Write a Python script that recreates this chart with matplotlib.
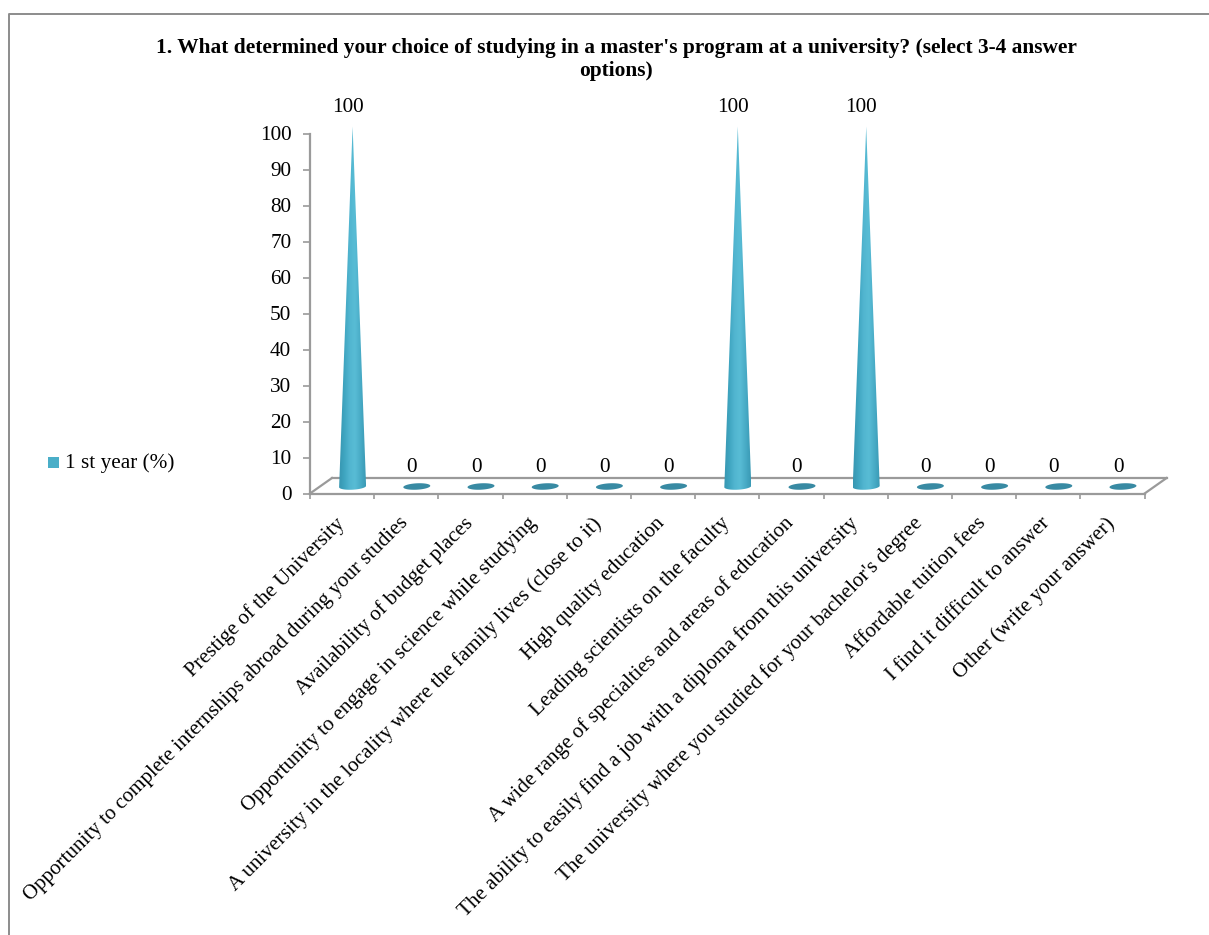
import numpy as np
import matplotlib
matplotlib.use("Agg")
import matplotlib.pyplot as plt
from matplotlib.patches import Polygon, Rectangle
from matplotlib.lines import Line2D
from matplotlib.transforms import ScaledTranslation
from matplotlib.colors import LinearSegmentedColormap

plt.rcParams['font.family'] = ['Liberation Serif', 'DejaVu Serif']

categories = [
    "Prestige of the University",
    "Opportunity to complete internships abroad during your studies",
    "Availability of budget places",
    "Opportunity to engage in science while studying",
    "A university in the locality where the family lives (close to it)",
    "High quality education",
    "Leading scientists on the faculty",
    "A wide range of specialties and areas of education",
    "The ability to easily find a job with a diploma from this university",
    "The university where you studied for your bachelor's degree",
    "Affordable tuition fees",
    "I find it difficult to answer",
    "Other (write your answer)",
]
values = [100, 0, 0, 0, 0, 0, 100, 0, 100, 0, 0, 0, 0]
series_name = "1 st year (%)"
title = ("1. What determined your choice of studying in a master's program at a university? (select 3-4 answer\noptions)")

W, H = 1209, 935
GRAY = "#9a9a9a"
FS = 15.3
fig = plt.figure(figsize=(W/100, H/100), dpi=100)

def fx(p): return p / W
def fy(p): return 1 - p / H

# chart frame
fig.add_artist(Line2D([fx(8.5), fx(8.5), fx(1209)], [fy(935), fy(13.5), fy(13.5)],
                      color="#8c8c8c", lw=1.4, transform=fig.transFigure))

ax = fig.add_axes([fx(310), fy(493.5), fx(1144.6)-fx(310), (493.5-133.5)/H])
ax.patch.set_alpha(0)
n = len(categories)

px = 72 / 100      # one pixel in points
dx, dy = 22, 15.5  # depth of the 3D floor, in pixels

def shift(x_px, y_px):
    return ax.transData + ScaledTranslation(x_px/100, y_px/100, fig.dpi_scale_trans)

for s in ["top", "right"]:
    ax.spines[s].set_visible(False)
for s in ["left", "bottom"]:
    ax.spines[s].set_color(GRAY)
    ax.spines[s].set_linewidth(1.6)

# floor
ax.plot([0, n], [0, 0], color=GRAY, lw=1.6, transform=shift(dx, dy), clip_on=False, zorder=1)
ax.set_xlim(0, n)
ax.set_ylim(0, 100)
fig.canvas.draw()
for xv in [0, n]:
    p0 = ax.transData.transform((xv, 0))
    fig.add_artist(Line2D([p0[0], p0[0] + dx], [p0[1], p0[1] + dy], color=GRAY, lw=1.6,
                          transform=None, zorder=1))

ax.set_yticks(np.arange(0, 101, 10))
ax.set_xticks(np.arange(0, n + 1))
ax.set_xticklabels([])
ax.tick_params(axis='y', length=5, width=1.2, color=GRAY, labelsize=FS, pad=8.5)
ax.tick_params(axis='x', length=3.5, width=1.2, color=GRAY)

# rotated category labels
for i, lab in enumerate(categories):
    ax.annotate(lab, xy=(i + 0.5, 0), xycoords='data', xytext=(-5.5, -14.5), textcoords='offset points',
                rotation=45, rotation_mode='anchor', ha='right', va='top',
                fontsize=15.1, color='black', annotation_clip=False)

cone_cmap = LinearSegmentedColormap.from_list(
    "cone", ["#3796b1", "#3fa5c0", "#52b6d0", "#58bcd5", "#48abc6", "#3a9ab5"])
grad = np.linspace(0, 1, 256).reshape(1, -1)
half_w = 0.21
cx_off, cy_off = 10.5, 7
px_per_unit = 3.6
rim_b = 3.2 / px_per_unit    # half height of the base ellipse
rim_k = 0.7 / px_per_unit    # tilt of the base ellipse
cone_tr = shift(cx_off, cy_off)
for i, v in enumerate(values):
    c = i + 0.5
    if v > 0:
        t = np.linspace(np.pi, 2*np.pi, 40)
        rim = list(zip(c + half_w*np.cos(t), rim_b*np.sin(t) + rim_k*np.cos(t)))
        verts = rim + [(c, v)]
        poly = Polygon(verts, closed=True, transform=cone_tr, facecolor='none', edgecolor='none')
        ax.add_patch(poly)
        im = ax.imshow(grad, extent=(c - half_w, c + half_w, -3, v), aspect='auto',
                       cmap=cone_cmap, transform=cone_tr, zorder=3)
        im.set_clip_box(fig.bbox)
        im.set_clip_path(poly)
    else:
        t = np.linspace(0, 2*np.pi, 60)
        verts = list(zip(c + half_w*np.cos(t), rim_b*np.sin(t) + rim_k*np.cos(t)))
        ax.add_patch(Polygon(verts, closed=True, transform=cone_tr, facecolor="#388aa3",
                             edgecolor='none', zorder=3, clip_on=False))
    # data label
    ax.annotate(f"{v}", xy=(c, v), xycoords='data', xytext=(5.5*px, 25.5*px),
                textcoords='offset points', ha='center', va='center',
                fontsize=FS, color='black', annotation_clip=False)

ax.set_xlim(0, n)
ax.set_ylim(0, 100)

# title
fig.text(fx(616), fy(59.5), title, ha='center', va='center', fontsize=15.4, fontweight='bold',
         linespacing=1.2, color='black')

# legend
fig.add_artist(Rectangle((fx(48), fy(468)), 11/W, 11/H, transform=fig.transFigure,
                         facecolor="#4aaec8", edgecolor='none'))
fig.text(fx(65), fy(463), series_name, ha='left', va='center', fontsize=FS, color='black')

fig.savefig("out.png", dpi=100)
